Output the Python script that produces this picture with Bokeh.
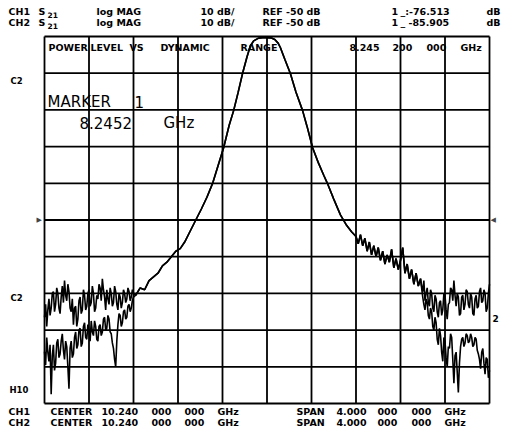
from bokeh.plotting import figure
from bokeh.models import Range1d, Label
from bokeh.embed import file_html
from bokeh.resources import INLINE

# ---------------- instrument settings ----------------
F_CENTER = 10.24          # GHz
F_SPAN = 4.0              # GHz
REF_LEVEL = -50.0         # dB
DB_PER_DIV = 10.0
N_DIV = 10
F_START = F_CENTER - F_SPAN / 2
F_STOP = F_CENTER + F_SPAN / 2
TOP_DB = REF_LEVEL + DB_PER_DIV * N_DIV / 2
BOTTOM_DB = REF_LEVEL - DB_PER_DIV * N_DIV / 2

grid_freqs = [8.24, 8.64, 9.04, 9.44, 9.84, 10.24, 10.64, 11.04, 11.44, 11.84, 12.24]
grid_levels = [0, -10, -20, -30, -40, -50, -60, -70, -80, -90, -100]

# ---------------- data ----------------
# left noise floor region (separate traces)
freq_left = [8.24, 8.25, 8.26, 8.27, 8.28, 8.29, 8.30, 8.31, 8.32, 8.33, 8.34, 8.35, 8.36, 8.37,
             8.38, 8.39, 8.40, 8.41, 8.42, 8.43, 8.44, 8.45, 8.46, 8.47, 8.48, 8.49, 8.50, 8.51,
             8.52, 8.53, 8.54, 8.55, 8.56, 8.57, 8.58, 8.59, 8.60, 8.61, 8.62, 8.63, 8.64, 8.65,
             8.66, 8.67, 8.68, 8.69, 8.70, 8.71, 8.72, 8.73, 8.74, 8.75, 8.76, 8.77, 8.78, 8.79,
             8.80, 8.81, 8.82, 8.83, 8.84, 8.85, 8.86, 8.87, 8.88, 8.89, 8.90, 8.91, 8.92, 8.93,
             8.94, 8.95, 8.96, 8.97, 8.98, 8.99, 9.00, 9.01, 9.02, 9.03, 9.04]
ch1_left = [-76.5, -73.0, -79.0, -74.5, -71.5, -76.0, -74.0, -70.0, -69.5, -75.0, -73.0, -68.5, -70.0, -74.0,
            -75.5, -71.0, -68.0, -72.5, -66.5, -70.5, -72.0, -67.5, -69.5, -74.0, -75.0, -71.5, -78.5, -74.0,
            -73.5, -79.0, -77.0, -72.0, -71.0, -75.5, -74.5, -69.0, -70.5, -74.5, -73.5, -70.0, -69.0, -73.5,
            -72.5, -68.0, -70.0, -75.0, -74.0, -70.5, -71.5, -67.5, -68.5, -72.0, -66.0, -69.0, -71.0, -74.5,
            -69.0, -71.5, -73.0, -68.5, -70.0, -73.5, -72.5, -68.0, -69.5, -73.0, -74.5, -70.0, -71.0, -74.0,
            -72.5, -69.0, -70.0, -72.5, -71.5, -68.5, -69.5, -72.0, -71.0, -69.0, -70.0]
ch2_left = [-85.9, -89.5, -82.0, -86.0, -88.5, -84.0, -97.5, -87.0, -84.0, -91.0, -89.0, -83.5, -82.5, -87.5,
            -86.5, -83.0, -81.0, -85.5, -88.0, -83.0, -84.5, -90.0, -96.0, -85.0, -83.0, -87.5, -86.5, -82.0,
            -80.5, -85.0, -84.0, -80.0, -79.5, -84.5, -83.5, -79.0, -78.0, -82.0, -82.5, -78.5, -80.0, -83.0,
            -77.5, -80.5, -81.5, -77.5, -79.0, -82.5, -83.0, -79.0, -78.5, -81.5, -80.5, -77.0, -76.5, -80.0,
            -79.5, -76.0, -77.0, -80.5, -81.0, -83.5, -85.0, -88.0, -90.0, -83.0, -78.5, -75.5, -76.0, -79.0,
            -78.0, -75.0, -74.5, -77.0, -76.5, -73.5, -73.0, -75.0, -74.0, -72.0, -71.0]

# filter passband (both channels coincide)
freq_pass = [9.06, 9.10, 9.14, 9.18, 9.22, 9.26, 9.30, 9.34, 9.38, 9.42, 9.46, 9.50, 9.55, 9.60,
             9.65, 9.70, 9.75, 9.80, 9.85, 9.90, 9.94, 9.98, 10.02, 10.06, 10.09, 10.12, 10.16, 10.20,
             10.24, 10.28, 10.31, 10.34, 10.36, 10.40, 10.45, 10.50, 10.56, 10.60, 10.65, 10.70, 10.75,
             10.78, 10.84, 10.90, 10.95, 11.00, 11.04]
db_pass = [-70.5, -68.5, -69.0, -66.5, -65.5, -64.5, -62.5, -61.5, -60.0, -58.5, -57.8, -56.0, -53.0, -50.0,
           -47.0, -43.8, -40.1, -35.2, -30.3, -24.2, -20.2, -15.3, -10.1, -5.6, -2.6, -1.2, -0.5, -0.3,
           -0.3, -0.4, -0.8, -1.8, -3.0, -6.2, -10.1, -15.1, -20.2, -24.5, -30.3, -34.3, -37.8,
           -39.8, -44.3, -48.6, -51.2, -53.2, -54.5]

# upper skirt, still common to both channels
freq_skirt = [11.06, 11.08, 11.10, 11.12, 11.14, 11.16, 11.18, 11.20, 11.22, 11.24, 11.26, 11.28, 11.30,
              11.32, 11.34, 11.36, 11.38, 11.40, 11.42, 11.44, 11.46, 11.48, 11.50, 11.52, 11.54, 11.56,
              11.58, 11.60, 11.62]
db_skirt = [-56.5, -54.0, -57.0, -55.0, -58.5, -56.0, -59.5, -57.0, -60.0, -57.5, -61.0, -58.5, -62.0,
            -59.5, -61.5, -58.0, -63.0, -60.5, -63.5, -61.0, -57.5, -64.5, -62.0, -66.0, -63.5, -67.5,
            -64.5, -68.0, -66.0]

# right noise floor region (separate traces)
freq_right = [11.63, 11.64, 11.65, 11.66, 11.67, 11.68, 11.69, 11.70, 11.71, 11.72, 11.73, 11.74, 11.75,
              11.76, 11.77, 11.78, 11.79, 11.80, 11.81, 11.82, 11.83, 11.84, 11.85, 11.86, 11.87, 11.88,
              11.89, 11.90, 11.91, 11.92, 11.93, 11.94, 11.95, 11.96, 11.97, 11.98, 11.99, 12.00, 12.01,
              12.02, 12.03, 12.04, 12.05, 12.06, 12.07, 12.08, 12.09, 12.10, 12.11, 12.12, 12.13, 12.14,
              12.15, 12.16, 12.17, 12.18, 12.19, 12.20, 12.21, 12.22, 12.23, 12.24]
ch1_right = [-68.0, -69.5, -66.5, -72.0, -70.0, -68.5, -72.5, -73.5, -69.0, -70.0, -74.0, -75.0, -70.5,
             -71.5, -75.0, -76.5, -72.5, -72.0, -76.0, -74.5, -70.0, -70.5, -74.5, -77.0, -73.0, -72.5,
             -68.5, -69.0, -72.0, -66.5, -70.5, -73.5, -70.0, -71.0, -76.0, -75.5, -71.0, -70.5, -74.5,
             -73.0, -69.0, -69.5, -73.0, -74.0, -70.0, -71.0, -75.5, -76.0, -71.5, -70.5, -74.0, -73.5,
             -69.5, -68.5, -72.5, -72.0, -69.0, -70.0, -75.0, -74.0, -70.0, -67.5]
ch2_right = [-68.5, -71.0, -73.0, -74.5, -71.5, -72.5, -76.0, -77.0, -74.0, -75.0, -79.0, -80.0, -76.5,
             -78.0, -82.5, -84.0, -79.5, -81.5, -86.0, -88.5, -82.0, -83.0, -87.5, -90.0, -84.5, -85.0,
             -81.0, -82.0, -88.0, -94.5, -87.0, -86.0, -91.5, -97.0, -89.0, -84.5, -82.5, -82.0, -84.5,
             -83.5, -81.0, -81.5, -83.5, -83.0, -81.0, -82.0, -84.5, -84.0, -82.0, -82.5, -85.5, -86.5,
             -88.0, -90.5, -86.0, -85.0, -89.0, -92.0, -87.5, -88.0, -93.0, -91.0]

# ---------------- page layout (pixels) ----------------
W, H = 507, 432
ORG_X, ORG_Y = 0, 0
GX0, GX1 = 44, 489
GY0, GY1 = 36, 403


def fx(px):
    return F_START + (px - GX0) * (F_SPAN / (GX1 - GX0))


def dy(py):
    return TOP_DB - (py - GY0) * ((TOP_DB - BOTTOM_DB) / (GY1 - GY0))


p = figure(width=W, height=H, output_backend="svg", toolbar_location=None,
           x_range=Range1d(fx(ORG_X), fx(ORG_X + W)),
           y_range=Range1d(dy(ORG_Y + H), dy(ORG_Y)),
           x_axis_location=None, y_axis_location=None, min_border=0)
p.grid.visible = False
p.outline_line_color = None
p.background_fill_color = "white"
p.border_fill_color = "white"

# graticule
p.segment(x0=grid_freqs, y0=[BOTTOM_DB] * len(grid_freqs), x1=grid_freqs, y1=[TOP_DB] * len(grid_freqs),
          line_color="black", line_width=1.8)
p.segment(x0=[F_START] * len(grid_levels), y0=grid_levels, x1=[F_STOP] * len(grid_levels), y1=grid_levels,
          line_color="black", line_width=1.8)

# traces
ch1_f = freq_left + freq_pass + freq_skirt + freq_right
ch1_db = ch1_left + db_pass + db_skirt + ch1_right
ch2_f = freq_left + freq_pass + freq_skirt + freq_right
ch2_db = ch2_left + db_pass + db_skirt + ch2_right
p.line(ch2_f, ch2_db, line_color="black", line_width=1.6)
p.line(ch1_f, ch1_db, line_color="black", line_width=1.6)

FONT = "DejaVu Sans"


def txt(s, px, py, size=9.5, bold=True):
    p.add_layout(Label(x=fx(px), y=dy(py), text=s, text_font=FONT, text_font_size=f"{size}px",
                       text_font_style="bold" if bold else "normal", text_color="black",
                       text_align="left", text_baseline="middle"))


# header
for row, (ch, val, sep) in enumerate([("CH1", "-76.513", "_:"), ("CH2", "-85.905", "_ ")]):
    y = 11 + row * 11
    txt(ch, 8, y)
    txt("S", 38, y)
    txt("21", 47, y + 3, size=7.5)
    txt("log MAG", 96, y)
    txt("10 dB/", 200, y)
    txt("REF -50 dB", 262, y)
    txt("1", 391, y)
    txt(sep + val, 400, y)
    txt("dB", 486, y)

# title row inside graticule
for s, x in [("POWER", 48), ("LEVEL", 90), ("VS", 129), ("DYNAMIC", 160), ("RANGE", 240)]:
    txt(s, x, 47)
for s, x in [("8.245", 349), ("200", 392), ("000", 426), ("GHz", 460)]:
    txt(s, x, 47)

# marker annotation
txt("MARKER", 47, 101, size=15, bold=False)
txt("1", 134, 101, size=15, bold=False)
txt("8.2452", 79, 122, size=15, bold=False)
txt("GHz", 163, 122, size=15, bold=False)

# side labels
txt("C2", 10, 80, size=8.5)
txt("C2", 10, 297, size=8.5)
txt("H10", 9, 389, size=8.5)
txt("2", 492, 318, size=9)
p.add_layout(Label(x=F_START, y=REF_LEVEL, text="\u25B6", x_offset=-8, text_font=FONT,
                   text_font_size="7px", text_align="left", text_baseline="middle"))
p.add_layout(Label(x=F_STOP, y=REF_LEVEL, text="\u25C0", x_offset=1, text_font=FONT,
                   text_font_size="7px", text_align="left", text_baseline="middle"))

# footer
for row, ch in enumerate(["CH1", "CH2"]):
    y = 411 + row * 11
    txt(ch, 8, y)
    txt("CENTER", 50, y)
    txt("10.240", 101, y)
    txt("000", 151, y)
    txt("000", 184, y)
    txt("GHz", 217, y)
    txt("SPAN", 296, y)
    txt("4.000", 336, y)
    txt("000", 377, y)
    txt("000", 411, y)
    txt("GHz", 444, y)

open("out.html", "w").write(file_html(p, INLINE))
